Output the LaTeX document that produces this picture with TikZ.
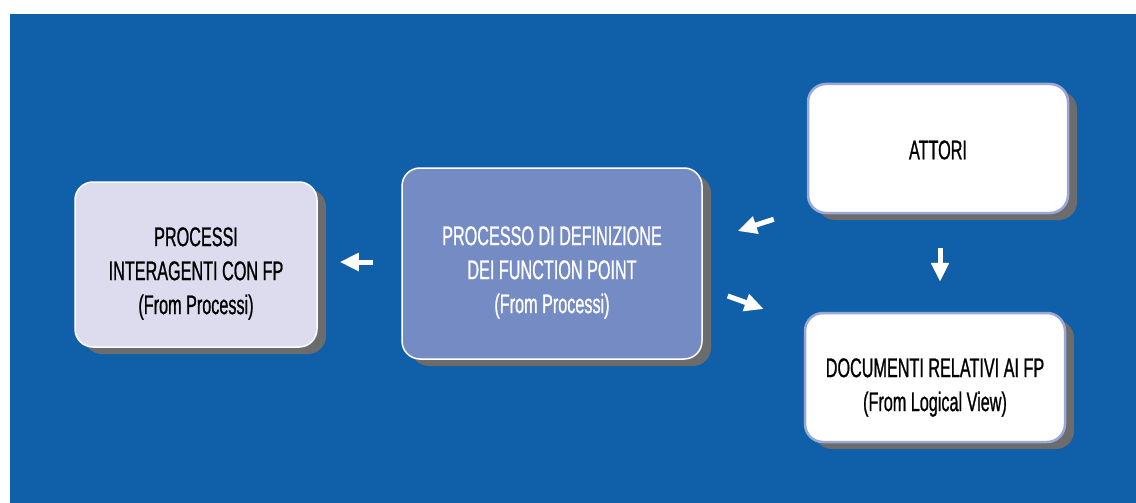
\documentclass[tikz,border=0pt]{standalone}
\usepackage{fontspec}
\setmainfont{Liberation Sans}[FakeStretch=0.6,FakeBold=0.8]
\usetikzlibrary{arrows.meta,shadows,calc}

\definecolor{bgblue}{RGB}{15,96,168}
\definecolor{lavender}{RGB}{220,220,238}
\definecolor{midblue}{RGB}{117,139,196}
\definecolor{paleedge}{RGB}{154,168,216}
\definecolor{shadowgray}{RGB}{108,108,108}
\definecolor{arrowgray}{RGB}{120,120,120}

\begin{document}
\begin{tikzpicture}[x=1pt,y=-1pt,
    box/.style={rounded corners=18pt,line width=1.5pt,inner sep=0pt,
        drop shadow={shadow xshift=9pt,shadow yshift=-7pt,fill=shadowgray,opacity=1}},
    boxtext/.style={align=center,font=\fontsize{27}{34}\selectfont},
    flow/.style={white,line width=5pt,-{Triangle[length=19pt,width=17pt]}},
    flowshade/.style={arrowgray,line width=5pt,-{Triangle[length=19pt,width=17pt]}}]
                \useasboundingbox (0,0) rectangle (1136,503);
                \fill[bgblue] (10,14) rectangle (1136,503);

                \node[box,fill=lavender,draw=white,minimum width=242pt,minimum height=165pt](inter)at(196, 264.5){};
                \node[box,fill=midblue,draw=white,minimum width=300pt,minimum height=191pt](proc)at(552, 263.5){};
                \node[box,fill=white,draw=paleedge,line width=2.5pt,minimum width=260pt,minimum height=129pt](attori)at(938, 148.5){};
                \node[box,fill=white,draw=paleedge,line width=2.5pt,minimum width=260pt,minimum height=129pt](docs)at(935, 377.5){};

                \node[boxtext](intertext)at([yshift=-9pt]inter.center){PROCESSI\\INTERAGENTI CON FP\\(From Processi)};
                \node[boxtext,text=white](proctext)at([yshift=-9pt]proc.center){PROCESSO DI DEFINIZIONE\\DEI FUNCTION POINT\\(From Processi)};
                \node[boxtext](attoritext)at([yshift=-1.5pt]attori.center){ATTORI};
                \node[boxtext](docstext)at([yshift=-10pt]docs.center){DOCUMENTI RELATIVI AI FP\\(From Logical View)};

                \begin{scope}[shift={(3,3)}]
                \draw[flowshade] ($(proc.west)+(-28,-1.5)$) -- ($(inter.east)+(22,-2.5)$);
                \draw[flowshade] ($(attori.south west)+(-33,5)$) -- ($(proc.east)+(35,-32.5)$);
                \draw[flowshade] ($(proc.east)+(25,32.5)$) -- ($(docs.west)+(-40,-68.5)$);
                \draw[flowshade] ($(attori.south)+(2,34)$) -- ($(docs.north)+(5,-30)$);
                \end{scope}
                \draw[flow] ($(proc.west)+(-28,-1.5)$) -- ($(inter.east)+(22,-2.5)$);
                \draw[flow] ($(attori.south west)+(-33,5)$) -- ($(proc.east)+(35,-32.5)$);
                \draw[flow] ($(proc.east)+(25,32.5)$) -- ($(docs.west)+(-40,-68.5)$);
                \draw[flow] ($(attori.south)+(2,34)$) -- ($(docs.north)+(5,-30)$);
            \end{tikzpicture}
\end{document}
